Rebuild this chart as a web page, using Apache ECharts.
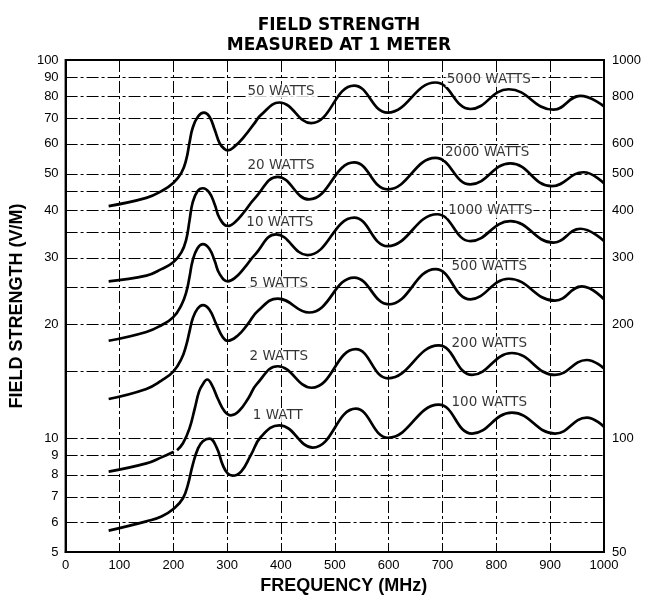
<!DOCTYPE html>
<html><head><meta charset="utf-8">
<script src="https://cdn.jsdelivr.net/npm/echarts@6/dist/echarts.min.js"></script>
<style>html,body{margin:0;padding:0;background:#fff}#c{width:646px;height:600px}</style>
</head><body><div id="c"></div>
<script>
// ---- data (frequency MHz, field strength V/M) ----
const freq50W = [80,150,178,200,215,224,230,236,246,257,267,277,286,295,301,314,332,351,363,397,456,536,598,687,752,823,906,956,1000];
const val50W  = [41.1,43.2,45.0,47.3,50.3,54.5,60.3,66.1,70.9,72.6,70.9,65.4,60.3,58.2,57.7,59.1,62.8,68.1,71.6,77.2,68.1,85.6,72.6,87.2,74.2,83.7,73.9,80.4,75.4];

const freq20W = [80,150,178,200,215,224,230,236,245,255,267,277,286,301,314,332,351,394,452,536,598,687,752,826,903,962,1000];
const val20W  = [26.0,26.9,28.0,29.2,31.0,33.5,37.5,42.0,45.0,45.8,44.6,41.5,38.2,36.4,37.2,39.7,43.0,49.1,42.8,53.6,45.5,55.1,46.9,53.3,46.4,50.5,47.2];

const freq10W = [80,150,178,200,215,224,230,236,245,255,267,277,286,301,314,332,351,391,449,536,598,690,752,826,906,956,1000];
const val10W  = [18.1,19.1,19.9,20.9,22.5,24.3,26.6,29.5,31.8,32.6,31.7,29.4,27.2,26.0,26.5,28.2,30.5,34.6,30.5,38.3,32.2,39.1,33.2,37.5,32.9,35.8,33.2];

const freq5W = [80,150,178,200,215,224,230,236,245,255,267,280,292,301,320,338,357,394,452,536,600,687,752,823,909,959,1000];
const val5W  = [12.7,13.5,14.2,15.0,16.2,17.6,19.1,20.7,22.0,22.5,21.9,20.0,18.5,18.1,18.7,20.0,21.7,23.4,21.5,26.6,22.6,28.0,23.3,26.4,23.1,25.2,23.3];

const freq2W = [80,150,178,201,204,207,218,230,240,248,255,263,272,283,295,307,322,340,355,394,457,539,599,693,755,829,909,968,1000];
const val2W  = [8.16,8.58,8.9,9.21,null,9.3,9.7,10.6,12.0,13.3,13.9,14.3,13.8,12.7,11.8,11.5,11.8,12.8,13.9,15.5,13.6,17.2,14.4,17.6,14.7,16.8,14.7,16.1,15.3];

const freq1W = [80,150,178,202,218,227,236,246,255,267,280,292,301,310,326,344,363,397,459,539,599,693,755,829,909,968,1000];
const val1W  = [5.70,6.03,6.21,6.53,6.94,7.52,8.49,9.40,9.82,9.98,9.49,8.49,8.07,7.96,8.16,9.02,10.09,10.82,9.45,11.97,10.03,12.27,10.29,11.69,10.29,11.34,10.72];

// curve labels
const labelText = ['50 WATTS','20 WATTS','10 WATTS','5 WATTS','2 WATTS','1 WATT',
                   '5000 WATTS','2000 WATTS','1000 WATTS','500 WATTS','200 WATTS','100 WATTS'];
const labelFreq = [400,400,398,396,396,394,786,783,789,787,787,787];
const labelVal  = [82.5,52.7,37.2,25.7,16.4,11.5,88.6,56.8,39.9,28.4,17.8,12.4];

// axis ticks
const leftTicks  = [5,6,7,8,9,10,20,30,40,50,60,70,80,90,100];
const rightTicks = [50,100,200,300,400,500,600,800,1000];
const hGrid      = [6,7,8,9,10,15,20,25,30,35,40,45,50,60,70,80,90];

const curves = [[freq50W,val50W],[freq20W,val20W],[freq10W,val10W],[freq5W,val5W],[freq2W,val2W],[freq1W,val1W]];

const dash = [12,3,3,3];
const plain = v => String(v);
const chart = echarts.init(document.getElementById('c'));
const series = curves.map(([f,v])=>({
  type:'line', yAxisIndex:0, smooth:0.45, showSymbol:false, symbol:'none',
  connectNulls:false, z:5,
  lineStyle:{color:'#000', width:2.7},
  data: f.map((x,j)=>[x, v[j]])
}));
series[0].markLine = {
  silent:true, symbol:'none', animation:false, z:1,
  label:{show:false},
  lineStyle:{color:'#000', width:1, type:dash},
  data: hGrid.map(g=>({yAxis:g}))
};
series.push({
  type:'scatter', yAxisIndex:0, symbolSize:0, z:10, silent:true,
  data: labelText.map((t,i)=>({name:t, value:[labelFreq[i], labelVal[i]]})),
  label:{show:true, position:'inside', formatter:p=>p.name, color:'#000',
    fontFamily:'DejaVu Sans', fontSize:13.5, backgroundColor:'#fff', padding:[0,1]}
});

chart.setOption({
  animation:false,
  backgroundColor:'#fff',
  title:{text:'FIELD STRENGTH\nMEASURED AT 1 METER', left:334, top:11, textAlign:'center',
    textStyle:{fontFamily:'DejaVu Sans', fontWeight:'bold', fontSize:17, lineHeight:20, color:'#000'}},
  grid:{left:64, right:42, top:60, bottom:46, show:true, borderColor:'#000', borderWidth:2},
  xAxis:{type:'value', min:0, max:1000, interval:100,
    name:'FREQUENCY (MHz)', nameLocation:'middle', nameGap:20,
    nameTextStyle:{fontFamily:'Liberation Sans', fontWeight:'bold', fontSize:18, color:'#000', padding:[0,0,0,18]},
    axisLine:{lineStyle:{color:'#000', width:2}}, axisTick:{show:false},
    axisLabel:{formatter:plain, fontFamily:'Liberation Sans', fontSize:13, color:'#000', margin:7},
    splitLine:{show:true, lineStyle:{color:'#000', width:1, type:dash}}},
  yAxis:[
    {type:'log', min:5, max:100, position:'left',
     name:'FIELD STRENGTH (V/M)', nameLocation:'middle', nameGap:36, nameRotate:90,
     nameTextStyle:{fontFamily:'Liberation Sans', fontWeight:'bold', fontSize:18, color:'#000'},
     axisLine:{show:true, lineStyle:{color:'#000', width:2}}, axisTick:{show:false},
     axisLabel:{customValues:leftTicks, formatter:plain, fontFamily:'Liberation Sans', fontSize:13, color:'#000', margin:7},
     splitLine:{show:false}},
    {type:'log', min:50, max:1000, position:'right',
     axisLine:{show:true, lineStyle:{color:'#000', width:2}}, axisTick:{show:false},
     axisLabel:{customValues:rightTicks, formatter:plain, fontFamily:'Liberation Sans', fontSize:13, color:'#000', margin:8},
     splitLine:{show:false}}
  ],
  series: series
});
</script></body></html>
